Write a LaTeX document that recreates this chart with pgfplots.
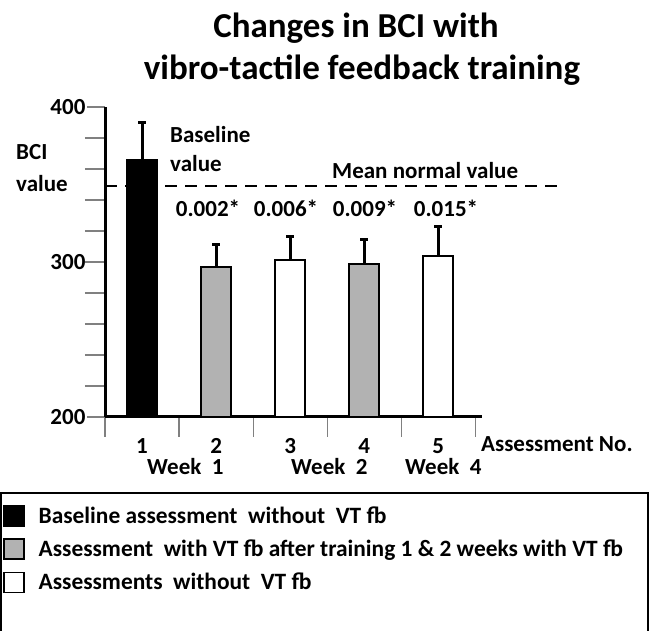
\documentclass[border=0pt]{standalone}
\usepackage{fontspec}
\setmainfont{Carlito}
\usepackage{pgfplots}
\pgfplotsset{compat=1.18}
\begin{document}
\begin{tikzpicture}[x=1pt,y=1pt]
\useasboundingbox (0,0) rectangle (653,631);
\begin{axis}[
  at={(105pt,214pt)}, anchor=south west,
  scale only axis, width=377pt, height=310pt,
  xmin=0.5, xmax=5.59, ymin=200, ymax=400,
  axis lines*=left,
  axis line style={line width=3pt},
  clip=false,
  xtick={1,2,3,4,5},
  xticklabels={1,2,3,4,5},
  minor xtick={0.5,1.5,2.5,3.5,4.5,5.5},
  ytick={200,300,400},
  yticklabel={\pgfmathprintnumber{\tick}},
  minor ytick={220,240,...,380},
  tick align=outside,
  major tick length=18pt, minor tick length=20pt,
  major x tick style={draw=none},
  tick style={gray, line width=1.2pt},
  tick label style={font=\fontsize{23}{27}\selectfont\bfseries},
  yticklabel style={xshift=2pt},
  /pgf/number format/assume math mode=true,
  legend style={at={(axis description cs:-0.2706,-0.283)}, anchor=north west,
    draw=none, fill=none, inner sep=0pt, row sep=11pt, column sep=12pt,
    font=\fontsize{23.4}{27}\selectfont\bfseries},
  legend cell align=left,
]
\addplot[fill=black, draw=black, line width=2pt, ybar, bar width=30pt, bar shift=0pt,
  error bars/.cd, y dir=plus, y explicit, error mark=|,
  error bar style={line width=3pt, black},
  error mark options={line width=3pt, mark size=4pt, black},
  /pgfplots/legend image code/.code={\draw[line width=1.5pt, fill=black] (0pt,-10pt) rectangle (20pt,10pt);}]
  coordinates {(1,366) +- (0,24)};
\addlegendentry{Baseline assessment\ \ without\ \ VT fb}
\addplot[fill=gray!60, draw=black, line width=2pt, ybar, bar width=30pt, bar shift=0pt,
  error bars/.cd, y dir=plus, y explicit, error mark=|,
  error bar style={line width=3pt, black},
  error mark options={line width=3pt, mark size=4pt, black},
  /pgfplots/legend image code/.code={\draw[line width=1.5pt, fill=gray!60] (0pt,-10pt) rectangle (20pt,10pt);}]
  coordinates {(2,297) +- (0,14.6) (4,299) +- (0,15.6)};
\addlegendentry{Assessment\ \ with VT fb after training 1 \& 2 weeks with VT fb}
\addplot[fill=white, draw=black, line width=2pt, ybar, bar width=30pt, bar shift=0pt,
  error bars/.cd, y dir=plus, y explicit, error mark=|,
  error bar style={line width=3pt, black},
  error mark options={line width=3pt, mark size=4pt, black},
  /pgfplots/legend image code/.code={\draw[line width=1.5pt, fill=white] (0pt,-10pt) rectangle (20pt,10pt);}]
  coordinates {(3,301) +- (0,15.3) (5,304) +- (0,19)};
\addlegendentry{Assessments\ \ without\ \ VT fb}
\addplot[black, line width=2.5pt, dash pattern=on 12pt off 8pt, forget plot]
  coordinates {(0.5,349) (6.61,349)};
\end{axis}
\begin{scope}[every node/.style={inner sep=0pt, font=\fontsize{23}{27}\selectfont\bfseries}]
\node[anchor=base, font=\fontsize{35}{42}\selectfont\bfseries] at (356,593) {Changes in BCI with};
\node[anchor=base, font=\fontsize{35}{42}\selectfont\bfseries] at (362,551) {vibro-tactile feedback training};
\node[anchor=base west] at (16,471) {BCI};
\node[anchor=base west] at (16,439) {value};
\node[anchor=base west] at (170,488) {Baseline};
\node[anchor=base west] at (170,459) {value};
\node[anchor=base west] at (332,452) {Mean normal value};
\node[anchor=base] at (208,414) {0.002*};
\node[anchor=base] at (286,414) {0.006*};
\node[anchor=base] at (365,414) {0.009*};
\node[anchor=base] at (446,414) {0.015*};
\node[anchor=base west] at (481,179) {Assessment No.};
\node[anchor=base west] at (147,156) {Week\ \ 1};
\node[anchor=base west] at (291,156) {Week\ \ 2};
\node[anchor=base west] at (405,156) {Week\ \ 4};
\end{scope}
\draw[line width=2pt] (1,0) -- (1,138) -- (648,138) -- (648,0);
\end{tikzpicture}
\end{document}
